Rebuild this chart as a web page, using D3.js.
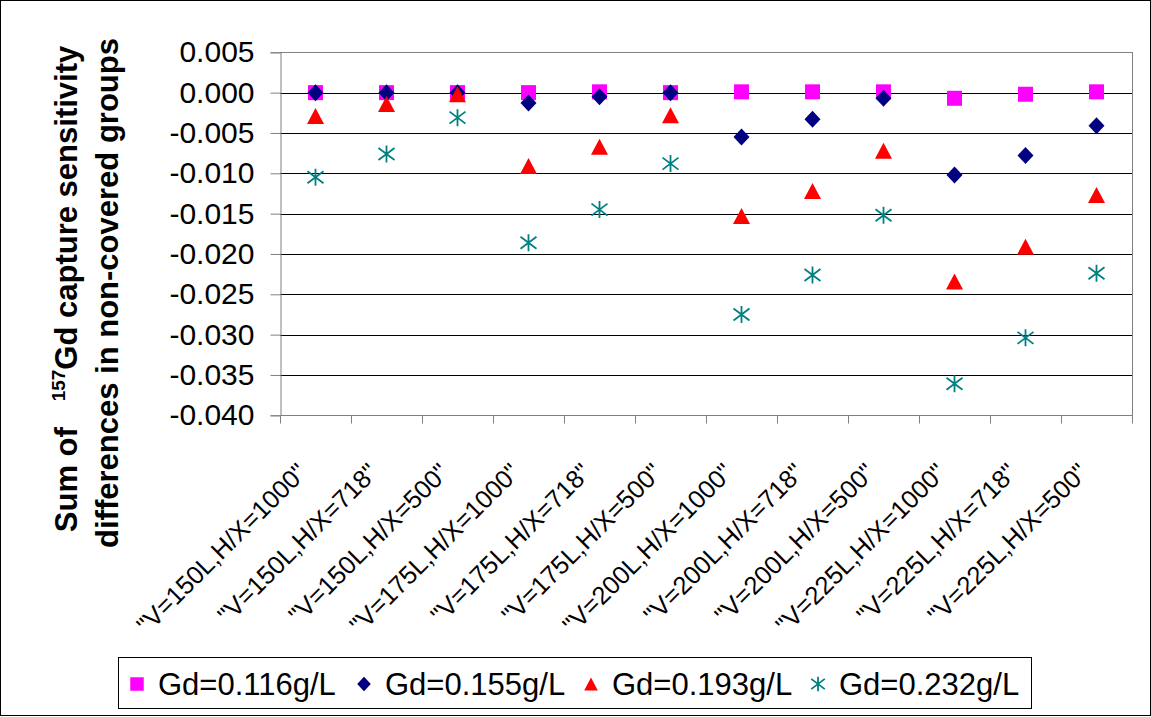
<!DOCTYPE html>
<html>
<head>
<meta charset="utf-8">
<script src="https://cdn.jsdelivr.net/npm/d3@7"></script>
<style>
  body { margin: 0; background: #fff; }
  text { font-family: Arial, "Liberation Sans", sans-serif; }
</style>
</head>
<body>
<svg></svg>
<script>
const categories = ['"V=150L,H/X=1000"', '"V=150L,H/X=718"', '"V=150L,H/X=500"',
  '"V=175L,H/X=1000"', '"V=175L,H/X=718"', '"V=175L,H/X=500"',
  '"V=200L,H/X=1000"', '"V=200L,H/X=718"', '"V=200L,H/X=500"',
  '"V=225L,H/X=1000"', '"V=225L,H/X=718"', '"V=225L,H/X=500"'];
const gd116 = [0.0000, 0.0000, 0.0000, 0.0000, 0.0001, 0.0000, 0.0001, 0.0001, 0.0001, -0.0007, -0.0002, 0.0001];
const gd155 = [0.0000, 0.0000, 0.0000, -0.0013, -0.0005, 0.0000, -0.0055, -0.0033, -0.0007, -0.0102, -0.0078, -0.0041];
const gd193 = [-0.0029, -0.0014, -0.0002, -0.0091, -0.0067, -0.0028, -0.0153, -0.0122, -0.0072, -0.0234, -0.0191, -0.0127];
const gd232 = [-0.0105, -0.0076, -0.0031, -0.0186, -0.0145, -0.0088, -0.0275, -0.0226, -0.0152, -0.0361, -0.0304, -0.0224];
const seriesNames = ['Gd=0.116g/L', 'Gd=0.155g/L', 'Gd=0.193g/L', 'Gd=0.232g/L'];
const yTicks = [0.005, 0, -0.005, -0.010, -0.015, -0.020, -0.025, -0.030, -0.035, -0.040];

const w = 1151, h = 717;
const svg = d3.select('svg').attr('width', w).attr('height', h);

// plot area
const pLeft = 280, pRight = 1132, pTop = 52.3, pBottom = 415.3;

const x = d3.scaleBand().domain(categories).range([pLeft, pRight]);
const y = d3.scaleLinear().domain([-0.04, 0.005]).range([pBottom, pTop]);
const cx = c => x(c) + x.bandwidth() / 2;

// outer frame
svg.append('rect')
  .attr('x', 0.5).attr('y', 0.5).attr('width', 1150).attr('height', 715)
  .attr('fill', 'none').attr('stroke', '#000');

// gridlines
svg.append('g').selectAll('line').data(yTicks).enter().append('line')
  .attr('x1', pLeft).attr('x2', pRight)
  .attr('y1', d => Math.round(y(d)) + 0.5).attr('y2', d => Math.round(y(d)) + 0.5)
  .attr('stroke', d => d === 0.005 ? '#808080' : '#000');

// right border
svg.append('line')
  .attr('x1', pRight + 0.5).attr('x2', pRight + 0.5).attr('y1', Math.round(pTop)).attr('y2', pBottom)
  .attr('stroke', '#808080');

// y axis (hyphen instead of d3's unicode minus)
const yFmt = d => d3.format('.3f')(d).replace('\u2212', '-');
const yAxisG = svg.append('g')
  .attr('transform', `translate(${pLeft + 0.5},0)`)
  .call(d3.axisLeft(y).tickValues(yTicks).tickFormat(yFmt).tickSize(10).tickPadding(16));
yAxisG.select('.domain').attr('stroke', '#808080');
yAxisG.selectAll('.tick line').attr('stroke', '#808080');
yAxisG.selectAll('.tick text')
  .attr('font-size', 30).attr('font-family', 'Arial, "Liberation Sans", sans-serif').attr('fill', '#000');

// x axis line and ticks at category boundaries
const xb = Math.round(pBottom) + 0.5;
svg.append('line').attr('x1', pLeft).attr('x2', pRight + 1).attr('y1', xb).attr('y2', xb).attr('stroke', '#808080');
const bounds = categories.map(c => x(c)).concat([pRight]);
svg.append('g').selectAll('line').data(bounds).enter().append('line')
  .attr('x1', d => Math.round(d) + 0.5).attr('x2', d => Math.round(d) + 0.5)
  .attr('y1', xb).attr('y2', xb + 8)
  .attr('stroke', '#808080');

// x labels
svg.append('g').selectAll('text').data(categories).enter().append('text')
  .attr('transform', d => `translate(${cx(d) - 7},474) rotate(-45)`)
  .attr('text-anchor', 'end')
  .attr('font-size', 25.5)
  .text(d => d);

// y title, two centred lines
const t1 = svg.append('text')
  .attr('transform', 'translate(77,289) rotate(-90)')
  .attr('text-anchor', 'middle')
  .attr('font-size', 31).attr('font-weight', 'bold')
  .style('white-space', 'pre');
t1.append('tspan').text('Sum of   ');
t1.append('tspan').attr('font-size', 19).attr('dy', -12).text('157');
t1.append('tspan').attr('dy', 12).text('Gd capture sensitivity');
svg.append('text')
  .attr('transform', 'translate(118,293) rotate(-90)')
  .attr('text-anchor', 'middle')
  .attr('font-size', 31).attr('font-weight', 'bold')
  .text('differences in non-covered groups');

// marker shapes
const shapes = [
  {color: '#FF00FF', path: s => `M${-7.5*s},${-7.5*s}h${15*s}v${15*s}h${-15*s}Z`, fill: true},
  {color: '#000080', path: s => `M0,${-8.5*s}L${8*s},0L0,${8.5*s}L${-8*s},0Z`, fill: true},
  {color: '#FF0000', path: s => `M0,${-8*s}L${8.5*s},${8*s}L${-8.5*s},${8*s}Z`, fill: true},
  {color: '#008080', path: s => `M0,${-8.5*s}V${8.5*s}M${-8*s},${-6*s}L${8*s},${6*s}M${-8*s},${6*s}L${8*s},${-6*s}`, fill: false}
];
const series = [gd116, gd155, gd193, gd232];

series.forEach((vals, i) => {
  const sh = shapes[i];
  svg.append('g').selectAll('path').data(vals).enter().append('path')
    .attr('transform', (d, j) => `translate(${cx(categories[j])},${y(d)})`)
    .attr('d', sh.path(1))
    .attr('fill', sh.fill ? sh.color : 'none')
    .attr('stroke', sh.fill ? 'none' : sh.color)
    .attr('stroke-width', 1.8);
});

// legend
svg.append('rect')
  .attr('x', 118.5).attr('y', 657.5).attr('width', 913).attr('height', 51)
  .attr('fill', '#fff').attr('stroke', '#000');
const legendX = [137, 364, 591, 818];
const legendScale = [0.9, 0.85, 0.8, 0.85];
const lg = svg.append('g').selectAll('g').data(seriesNames).enter().append('g')
  .attr('transform', (d, i) => `translate(${legendX[i]},684)`);
lg.append('path')
  .attr('d', (d, i) => shapes[i].path(legendScale[i]))
  .attr('fill', (d, i) => shapes[i].fill ? shapes[i].color : 'none')
  .attr('stroke', (d, i) => shapes[i].fill ? 'none' : shapes[i].color)
  .attr('stroke-width', 1.8);
lg.append('text')
  .attr('x', 21).attr('y', 11)
  .attr('font-size', 31)
  .text(d => d);
</script>
</body>
</html>
